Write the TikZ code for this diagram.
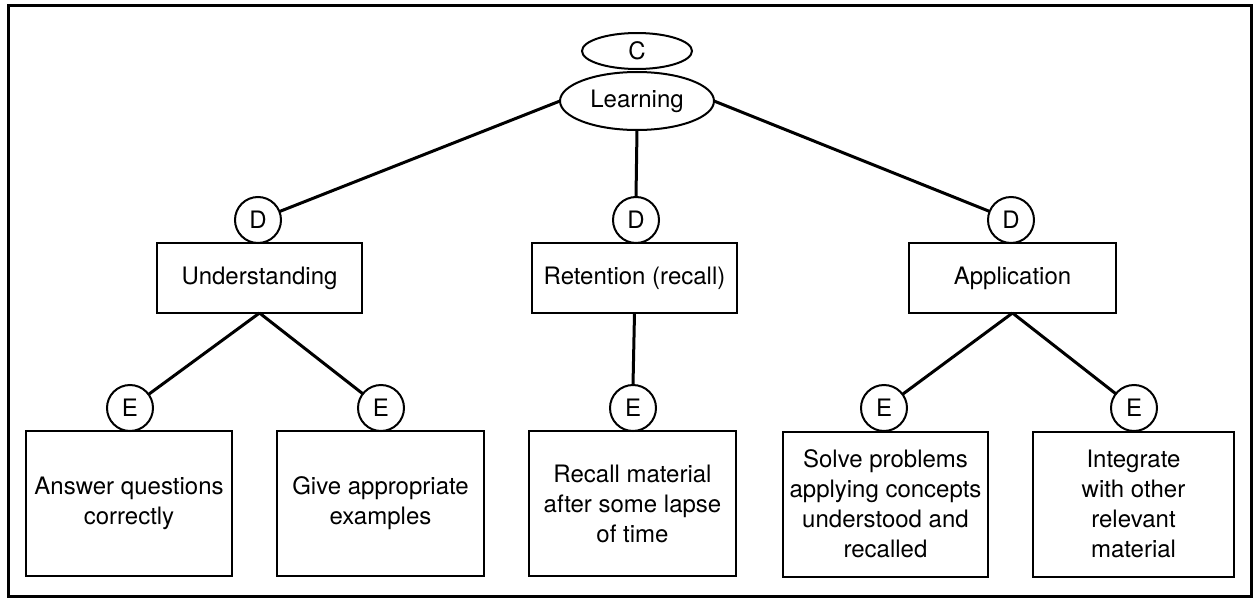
\documentclass[tikz,border=0pt]{standalone}
\usepackage{fontspec}
\setmainfont{TeX Gyre Heros}
\usetikzlibrary{shapes.geometric}
\begin{document}
\begin{tikzpicture}[x=1pt,y=-1pt,
  every node/.style={font=\fontsize{24}{30}\selectfont, inner sep=0pt, outer sep=0pt},
  oval/.style={draw, ellipse, line width=2pt},
  letter/.style={draw, circle, line width=2pt, minimum size=46pt},
  midbox/.style={draw, rectangle, line width=2pt, minimum height=70pt, align=center},
  leafbox/.style={draw, rectangle, line width=2pt, minimum height=145pt, align=center},
  link/.style={line width=3pt}]
\useasboundingbox (0,0) rectangle (1256,605);
\draw[line width=3pt] (8,5) rectangle (1251,596);

\node[oval, minimum width=110pt, minimum height=36pt] (C) at (637,51) {C};
\node[oval, minimum width=154pt, minimum height=58pt] (L) at (637,101) {Learning};

\node[letter] (D1) at (258,220) {D};
\node[letter] (D2) at (636,220) {D};
\node[letter] (D3) at (1011,220) {D};

\node[midbox, minimum width=205pt] (U) at (259.5,278) {Understanding};
\node[midbox, minimum width=205pt] (R) at (634.5,278) {Retention (recall)};
\node[midbox, minimum width=207pt] (A) at (1012.5,278) {Application};

\node[letter] (E1) at (130,408) {E};
\node[letter] (E2) at (381,408) {E};
\node[letter] (E3) at (633,408) {E};
\node[letter] (E4) at (884,408) {E};
\node[letter] (E5) at (1134,408) {E};

\node[leafbox, minimum width=206pt] (B1) at (129,503.5) {Answer questions\\correctly};
\node[leafbox, minimum width=207pt] (B2) at (380.5,503.5) {Give appropriate\\examples};
\node[leafbox, minimum width=207pt] (B3) at (632.5,503.5) {Recall material\\after some lapse\\of time};
\node[leafbox, minimum width=205pt] (B4) at (885.5,504) {Solve problems\\applying concepts\\understood and\\recalled};
\node[leafbox, minimum width=201pt] (B5) at (1133.5,504) {Integrate\\with other\\relevant\\material};

\draw[link] (L.west) -- (D1);
\draw[link] (L.south) -- (D2.north);
\draw[link] (L.east) -- (D3);

\draw[link] (U.south) -- (E1);
\draw[link] (U.south) -- (E2);
\draw[link] (R.south) -- (E3.north);
\draw[link] (A.south) -- (E4);
\draw[link] (A.south) -- (E5);
\end{tikzpicture}
\end{document}
